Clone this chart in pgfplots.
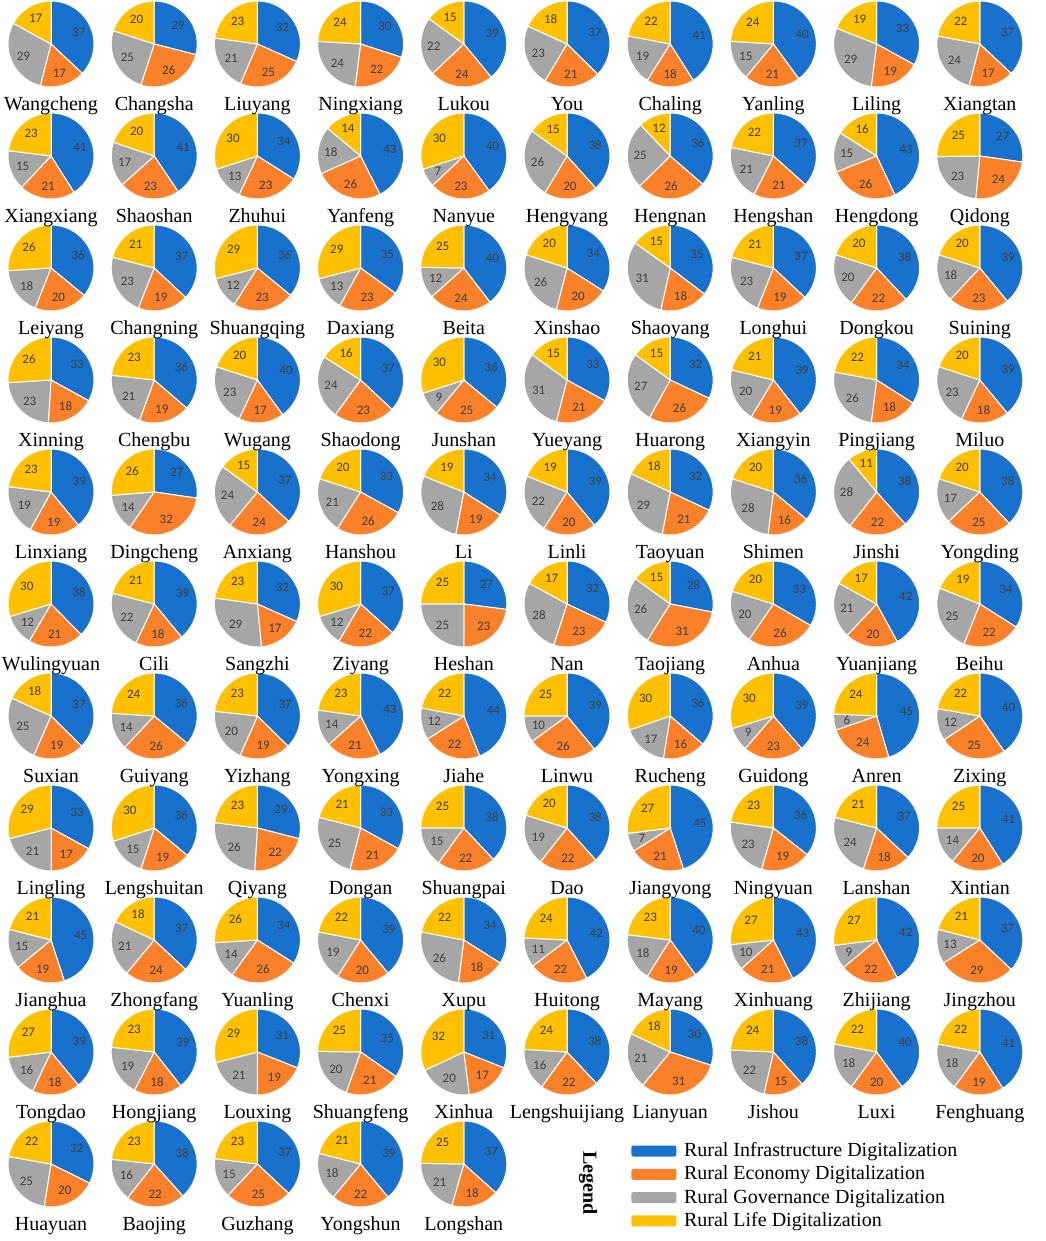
\documentclass[border=0pt]{standalone}
\usepackage{pgfplots}
\usepackage{pgfplotstable}
\usepackage{fontspec}
\pgfplotsset{compat=1.18}
\setmainfont{Liberation Serif}
\newfontfamily\numfamily{Carlito}

\definecolor{pieblue}{RGB}{24,113,205}
\definecolor{pieorange}{RGB}{250,128,42}
\definecolor{piegray}{RGB}{166,166,166}
\definecolor{pieyellow}{RGB}{255,192,0}
\definecolor{numgray}{RGB}{64,64,64}

\newcommand\namefont{\fontsize{10}{11}\selectfont}
\newcommand\numfont{\numfamily\fontsize{6.5}{7}\selectfont}
\newcommand\R{21.5pt}

% one wedge: colour, start angle, end angle, value
\newcommand\drawwedge[4]{%
  \fill[#1, draw=white, line width=0.5pt] (0pt,0pt) -- (#2:\R)
    arc[start angle=#2, end angle=#3, radius=\R] -- cycle;
  \pgfmathsetmacro\midang{(#2+#3)/2}%
  \pgfmathtruncatemacro\vv{round(#4)}%
  \node[font=\numfont, text=numgray, inner sep=0pt] at (\midang:{0.7*\R}) {\vv};
}

% infrastructure, economy, governance, life
\pgfplotstableread{
name col row a b c d
Wangcheng 0 0 37 17 29 17
Changsha 1 0 29 26 25 20
Liuyang 2 0 32 25 21 23
Ningxiang 3 0 30 22 24 24
Lukou 4 0 39 24 22 15
You 5 0 37 21 23 18
Chaling 6 0 41 18 19 22
Yanling 7 0 40 21 15 24
Liling 8 0 33 19 29 19
Xiangtan 9 0 37 17 24 22
Xiangxiang 0 1 41 21 15 23
Shaoshan 1 1 41 23 17 20
Zhuhui 2 1 34 23 13 30
Yanfeng 3 1 43 26 18 14
Nanyue 4 1 40 23 7 30
Hengyang 5 1 38 20 26 15
Hengnan 6 1 36 26 25 12
Hengshan 7 1 37 21 21 22
Hengdong 8 1 43 26 15 16
Qidong 9 1 27 24 23 25
Leiyang 0 2 36 20 18 26
Changning 1 2 37 19 23 21
Shuangqing 2 2 36 23 12 29
Daxiang 3 2 35 23 13 29
Beita 4 2 40 24 12 25
Xinshao 5 2 34 20 26 20
Shaoyang 6 2 35 18 31 15
Longhui 7 2 37 19 23 21
Dongkou 8 2 38 22 20 20
Suining 9 2 39 23 18 20
Xinning 0 3 33 18 23 26
Chengbu 1 3 36 19 21 23
Wugang 2 3 40 17 23 20
Shaodong 3 3 37 23 24 16
Junshan 4 3 36 25 9 30
Yueyang 5 3 33 21 31 15
Huarong 6 3 32 26 27 15
Xiangyin 7 3 39 19 20 21
Pingjiang 8 3 34 18 26 22
Miluo 9 3 39 18 23 20
Linxiang 0 4 39 19 19 23
Dingcheng 1 4 27 32 14 26
Anxiang 2 4 37 24 24 15
Hanshou 3 4 33 26 21 20
Li 4 4 34 19 28 19
Linli 5 4 39 20 22 19
Taoyuan 6 4 32 21 29 18
Shimen 7 4 36 16 28 20
Jinshi 8 4 38 22 28 11
Yongding 9 4 38 25 17 20
Wulingyuan 0 5 38 21 12 30
Cili 1 5 39 18 22 21
Sangzhi 2 5 32 17 29 23
Ziyang 3 5 37 22 12 30
Heshan 4 5 27 23 25 25
Nan 5 5 32 23 28 17
Taojiang 6 5 28 31 26 15
Anhua 7 5 33 26 20 20
Yuanjiang 8 5 42 20 21 17
Beihu 9 5 34 22 25 19
Suxian 0 6 37 19 25 18
Guiyang 1 6 36 26 14 24
Yizhang 2 6 37 19 20 23
Yongxing 3 6 43 21 14 23
Jiahe 4 6 44 22 12 22
Linwu 5 6 39 26 10 25
Rucheng 6 6 36 16 17 30
Guidong 7 6 39 23 9 30
Anren 8 6 45 24 6 24
Zixing 9 6 40 25 12 22
Lingling 0 7 33 17 21 29
Lengshuitan 1 7 36 19 15 30
Qiyang 2 7 29 22 26 23
Dongan 3 7 33 21 25 21
Shuangpai 4 7 38 22 15 25
Dao 5 7 38 22 19 20
Jiangyong 6 7 45 21 7 27
Ningyuan 7 7 36 19 23 23
Lanshan 8 7 37 18 24 21
Xintian 9 7 41 20 14 25
Jianghua 0 8 45 19 15 21
Zhongfang 1 8 37 24 21 18
Yuanling 2 8 34 26 14 26
Chenxi 3 8 39 20 19 22
Xupu 4 8 34 18 26 22
Huitong 5 8 42 22 11 24
Mayang 6 8 40 19 18 23
Xinhuang 7 8 43 21 10 27
Zhijiang 8 8 42 22 9 27
Jingzhou 9 8 37 29 13 21
Tongdao 0 9 39 18 16 27
Hongjiang 1 9 39 18 19 23
Louxing 2 9 31 19 21 29
Shuangfeng 3 9 35 21 20 25
Xinhua 4 9 31 17 20 32
Lengshuijiang 5 9 38 22 16 24
Lianyuan 6 9 30 31 21 18
Jishou 7 9 38 15 22 24
Luxi 8 9 40 20 18 22
Fenghuang 9 9 41 19 18 22
Huayuan 0 10 32 20 25 22
Baojing 1 10 38 22 16 23
Guzhang 2 10 37 25 15 23
Yongshun 3 10 39 22 18 21
Longshan 4 10 37 18 21 25
}\piedata

\begin{document}
\begin{tikzpicture}
\begin{axis}[
  width=522.5pt, height=620.5pt, scale only axis,
  xmin=0, xmax=1045, ymin=-1241, ymax=0,
  hide axis, clip=false,
  legend style={at={(axis cs:631,-1139)}, anchor=north west, draw=none, fill=none,
    inner sep=0pt, row sep=0pt, font=\namefont,
    nodes={inner ysep=0pt, inner xsep=3.8pt, minimum height=11.65pt}},
  legend cell align=left,
  legend image code/.code={\fill[rounded corners=1pt] (0pt,-2.75pt) rectangle (22.5pt,2.75pt);},
]
\addlegendimage{fill=pieblue, draw=none}
\addlegendimage{fill=pieorange, draw=none}
\addlegendimage{fill=piegray, draw=none}
\addlegendimage{fill=pieyellow, draw=none}

% pies
\addplot[forget plot, scatter, only marks, mark=text, text mark={},
  point meta=\thisrow{a},
  visualization depends on={\thisrow{a}\as\va},
  visualization depends on={\thisrow{b}\as\vb},
  visualization depends on={\thisrow{c}\as\vc},
  visualization depends on={\thisrow{d}\as\vd},
  scatter/@pre marker code/.code={%
    \begin{scope}
    \pgfmathsetmacro\tot{\va+\vb+\vc+\vd}%
    \pgfmathsetmacro\angA{90-360*\va/\tot}%
    \pgfmathsetmacro\angB{\angA-360*\vb/\tot}%
    \pgfmathsetmacro\angC{\angB-360*\vc/\tot}%
    \drawwedge{pieblue}{90}{\angA}{\va}%
    \drawwedge{pieorange}{\angA}{\angB}{\vb}%
    \drawwedge{piegray}{\angB}{\angC}{\vc}%
    \drawwedge{pieyellow}{\angC}{-270}{\vd}%
  },
  scatter/@post marker code/.code={\end{scope}},
] table[x expr=51+103.2*\thisrow{col}, y expr=-(44+112*\thisrow{row})] {\piedata};

% names
\addplot[forget plot, only marks, mark=none,
  point meta=explicit symbolic,
  nodes near coords,
  every node near coord/.style={anchor=base, yshift=-33.5pt, font=\namefont,
    inner sep=0pt, text=black},
] table[x expr=51+103.2*\thisrow{col}, y expr=-(44+112*\thisrow{row}), meta=name] {\piedata};

\legend{Rural Infrastructure Digitalization, Rural Economy Digitalization,
  Rural Governance Digitalization, Rural Life Digitalization}

\node[rotate=-90, font=\fontsize{10}{12}\selectfont\bfseries] at (axis cs:588,-1183) {Legend};
\end{axis}
\pgfresetboundingbox
\path (0pt,0pt) rectangle (522.5pt,620.5pt);
\end{tikzpicture}
\end{document}
